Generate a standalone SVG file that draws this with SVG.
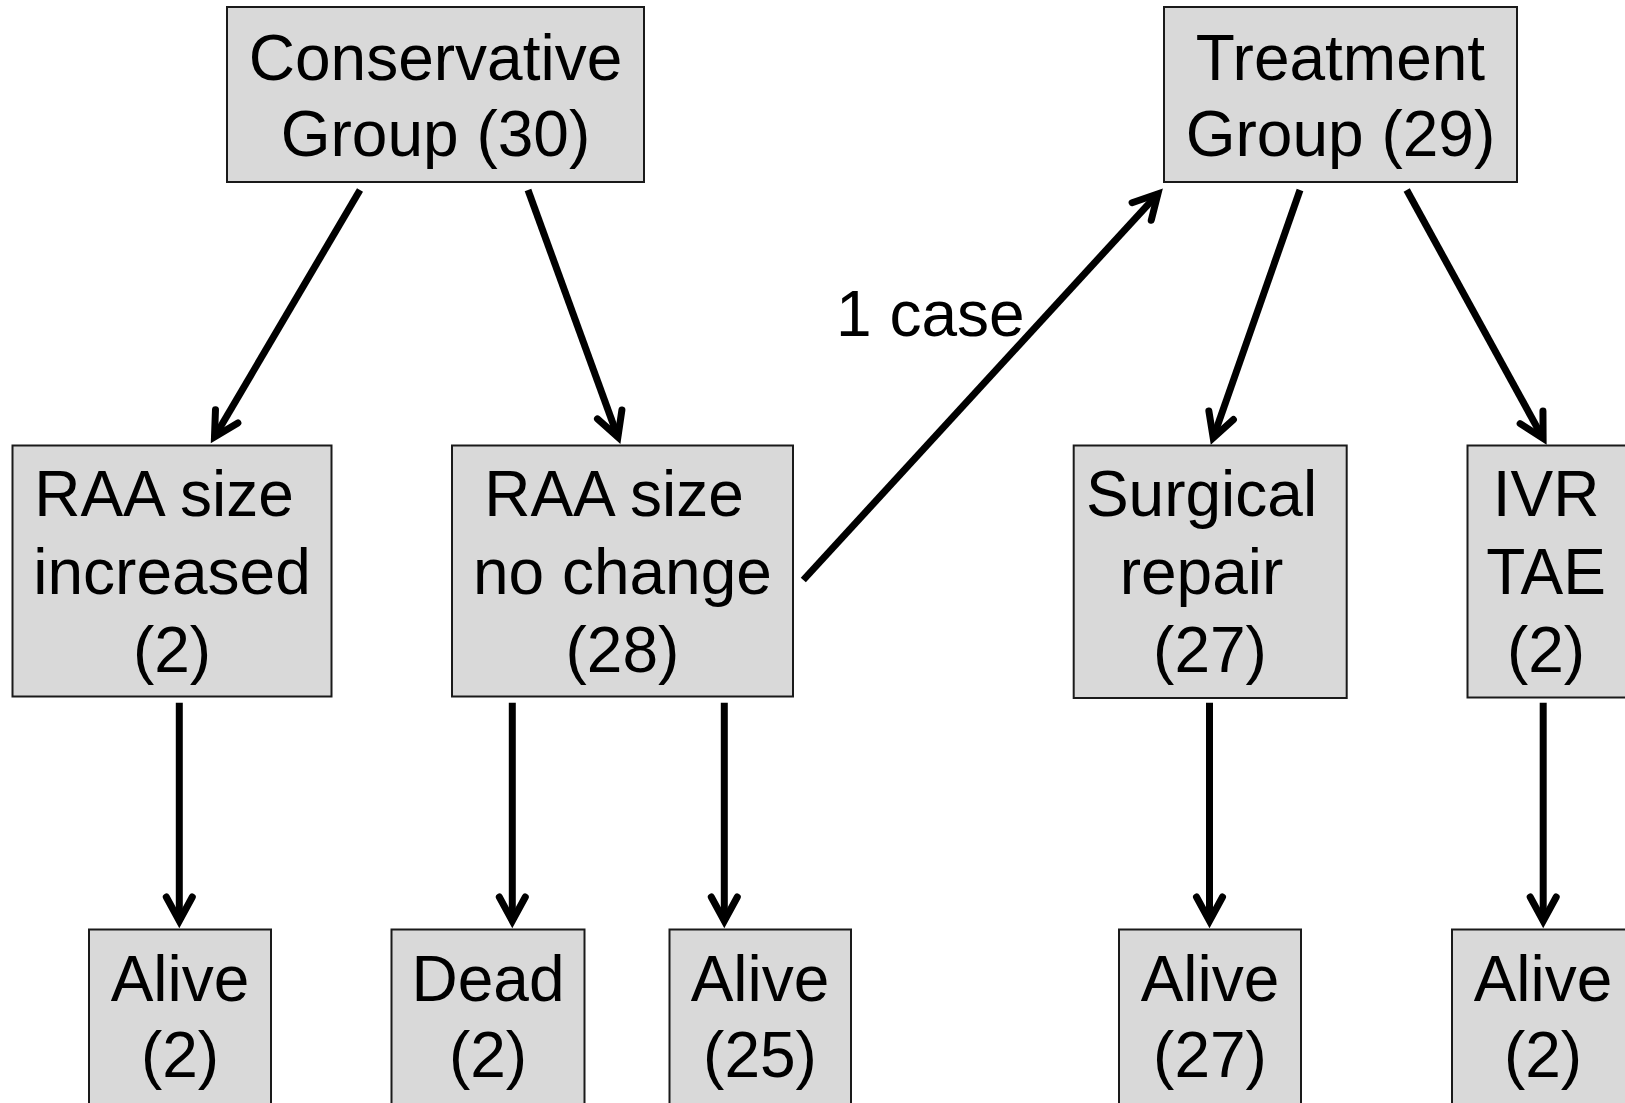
<svg xmlns="http://www.w3.org/2000/svg" width="1625" height="1103" viewBox="0 0 1625 1103">
<style>
.box{fill:#d9d9d9;stroke:#1a1a1a;stroke-width:2}
.t{font-family:"Liberation Sans",Arial,sans-serif;font-size:64px;fill:#000;text-anchor:middle}
.lbl{font-family:"Liberation Sans",Arial,sans-serif;font-size:64px;fill:#000}
.c{stroke:#000;stroke-width:7;fill:none;stroke-linecap:butt;marker-end:url(#ah)}
</style>
<defs>
<marker id="ah" markerUnits="userSpaceOnUse" orient="auto" refX="0" refY="0" markerWidth="40" markerHeight="40" overflow="visible">
<path d="M -24,-13 L 0,0 L -24,13" fill="none" stroke="#000" stroke-width="7" stroke-linejoin="miter" stroke-linecap="round"/>
</marker>
</defs>
<rect width="1625" height="1103" fill="#fff"/>
<g id="connectors">
<line class="c" x1="360" y1="190" x2="214.5" y2="437"/>
<line class="c" x1="528" y1="190" x2="617.9" y2="437"/>
<line class="c" x1="803.3" y1="580" x2="1157.9" y2="193.8"/>
<line class="c" x1="1300" y1="190" x2="1213.2" y2="437.9"/>
<line class="c" x1="1406.7" y1="190" x2="1543.1" y2="438.4"/>
<line class="c" x1="179.3" y1="702.7" x2="179.3" y2="921"/>
<line class="c" x1="512.3" y1="702.7" x2="512.3" y2="921"/>
<line class="c" x1="724.3" y1="702.7" x2="724.3" y2="921"/>
<line class="c" x1="1209.5" y1="702.7" x2="1209.5" y2="921"/>
<line class="c" x1="1543.2" y1="702.7" x2="1543.2" y2="921"/>
<text class="lbl" x="836" y="336">1 case</text>
</g>
<g id="conservative">
<rect class="box" x="227" y="7" width="417" height="175"/>
<text class="t" x="435.5" y="80">Conservative</text>
<text class="t" x="435.5" y="156">Group (30)</text>
</g>
<g id="treatment">
<rect class="box" x="1164" y="7" width="353" height="175"/>
<text class="t" x="1340.5" y="80">Treatment</text>
<text class="t" x="1340.5" y="156">Group (29)</text>
</g>
<g id="raa-increased">
<rect class="box" x="12.5" y="445.5" width="319" height="251"/>
<text class="t" x="164" y="516">RAA size</text>
<text class="t" x="172" y="594">increased</text>
<text class="t" x="172" y="672">(2)</text>
</g>
<g id="raa-nochange">
<rect class="box" x="452" y="445.5" width="341" height="251"/>
<text class="t" x="614" y="516">RAA size</text>
<text class="t" x="622.4" y="594">no change</text>
<text class="t" x="622.4" y="672">(28)</text>
</g>
<g id="surgical">
<rect class="box" x="1073.7" y="445.5" width="273" height="252.5"/>
<text class="t" x="1201.5" y="516">Surgical</text>
<text class="t" x="1201.5" y="594">repair</text>
<text class="t" x="1210" y="672">(27)</text>
</g>
<g id="ivr">
<rect class="box" x="1467.5" y="445.5" width="158.5" height="252"/>
<text class="t" x="1546" y="516">IVR</text>
<text class="t" x="1546" y="594">TAE</text>
<text class="t" x="1546" y="672">(2)</text>
</g>
<g id="alive-inc">
<rect class="box" x="89" y="929.5" width="182" height="180"/>
<text class="t" x="180" y="1001">Alive</text>
<text class="t" x="180" y="1077">(2)</text>
</g>
<g id="dead">
<rect class="box" x="391.5" y="929.5" width="193" height="180"/>
<text class="t" x="488" y="1001">Dead</text>
<text class="t" x="488" y="1077">(2)</text>
</g>
<g id="alive-nochange">
<rect class="box" x="669.5" y="929.5" width="181.5" height="180"/>
<text class="t" x="760" y="1001">Alive</text>
<text class="t" x="760" y="1077">(25)</text>
</g>
<g id="alive-surgical">
<rect class="box" x="1119" y="929.5" width="182" height="180"/>
<text class="t" x="1210" y="1001">Alive</text>
<text class="t" x="1210" y="1077">(27)</text>
</g>
<g id="alive-ivr">
<rect class="box" x="1452" y="929.5" width="182" height="180"/>
<text class="t" x="1543" y="1001">Alive</text>
<text class="t" x="1543" y="1077">(2)</text>
</g>
</svg>
